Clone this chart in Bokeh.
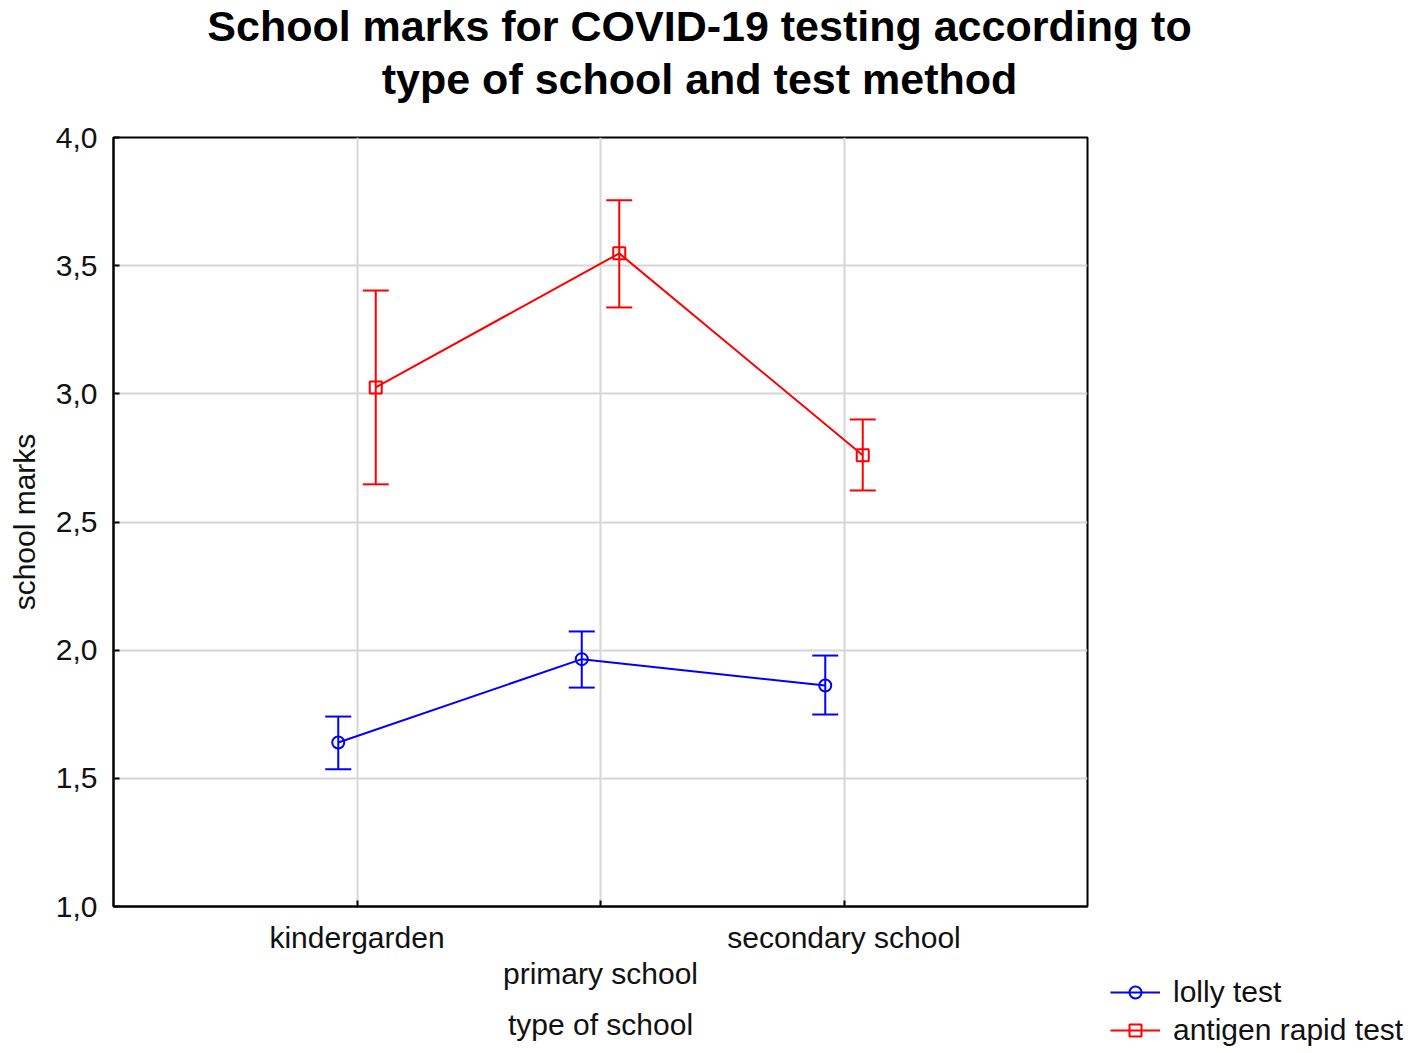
from bokeh.plotting import figure
from bokeh.layouts import column, row
from bokeh.models import (ColumnDataSource, Whisker, TeeHead, FixedTicker,
                          Legend, LegendItem, Label, Range1d)
from bokeh.embed import file_html
from bokeh.resources import INLINE

# ---------------- data ----------------
categories = ["kindergarden", "primary school", "secondary school"]
cat_pos = [1, 2, 3]

series_names = ["lolly test", "antigen rapid test"]
lolly_mean = [1.640, 1.965, 1.862]
lolly_upper = [1.741, 2.073, 1.979]
lolly_lower = [1.535, 1.854, 1.749]
antigen_mean = [3.025, 3.548, 2.760]
antigen_upper = [3.403, 3.755, 2.900]
antigen_lower = [2.647, 3.337, 2.623]

y_ticks = [1.0, 1.5, 2.0, 2.5, 3.0, 3.5, 4.0]
y_tick_labels = ["1,0", "1,5", "2,0", "2,5", "3,0", "3,5", "4,0"]
title_lines = ["School marks for COVID-19 testing according to",
               "type of school and test method"]
x_title = "type of school"
y_title = "school marks"

# ---------------- style ----------------
FONT = "Liberation Sans"
FS = "30px"
DODGE = 0.077
BLUE = "#0000ff"
RED = "#ff0000"
GRID = "#d6d6d6"
TXT = "#111111"

W, H = 1409, 1050
TITLE_H = 120
MAIN_W = 1095
MAIN_H = H - TITLE_H


def bare(fig):
    fig.outline_line_color = None
    fig.background_fill_color = "white"
    fig.border_fill_color = "white"
    fig.xgrid.visible = False
    fig.ygrid.visible = False
    return fig


def no_align(fig):
    try:
        fig.frame_align = False
    except Exception:
        pass
    return fig


# ---------------- title strip ----------------
pt = bare(figure(width=W, height=TITLE_H, output_backend="svg", toolbar_location=None,
                 x_range=Range1d(0, 1), y_range=Range1d(0, 1),
                 x_axis_location=None, y_axis_location=None,
                 min_border=0, min_border_left=0, min_border_right=0,
                 min_border_top=0, min_border_bottom=0))
no_align(pt)
for txt, yy in zip(title_lines, [TITLE_H - 25, TITLE_H - 78]):
    pt.add_layout(Label(x=699, y=yy, x_units="screen", y_units="screen", text=txt,
                        text_align="center", text_baseline="middle",
                        text_font=FONT, text_font_size="43px", text_font_style="bold",
                        text_color="black"))

# ---------------- main plot ----------------
p = figure(width=MAIN_W, height=MAIN_H, output_backend="svg", toolbar_location=None,
           x_range=Range1d(0, 4), y_range=Range1d(1, 4),
           min_border_left=113, min_border_right=MAIN_W - 1087,
           min_border_top=137 - TITLE_H, min_border_bottom=H - 906)
no_align(p)
p.background_fill_color = "white"
p.border_fill_color = "white"
p.outline_line_color = "black"
p.outline_line_width = 2
p.outline_line_alpha = 1

p.xgrid.ticker = FixedTicker(ticks=cat_pos)
p.ygrid.ticker = FixedTicker(ticks=y_ticks)
for g in (p.xgrid[0], p.ygrid[0]):
    g.grid_line_color = GRID
    g.grid_line_width = 2

ya = p.yaxis[0]
ya.ticker = FixedTicker(ticks=y_ticks)
ya.major_label_overrides = dict(zip(y_ticks, y_tick_labels))
ya.axis_label = y_title
ya.axis_label_text_font = FONT
ya.axis_label_text_font_size = FS
ya.axis_label_text_font_style = "normal"
ya.axis_label_text_color = TXT
ya.axis_label_standoff = 12
ya.major_label_text_font = FONT
ya.major_label_text_font_size = FS
ya.major_label_text_color = TXT
ya.major_label_standoff = 16
ya.major_tick_in = 6
ya.major_tick_out = 0
ya.minor_tick_line_color = None
ya.axis_line_width = 2
ya.major_tick_line_width = 2

xa = p.xaxis[0]
xa.ticker = FixedTicker(ticks=cat_pos)
xa.major_label_overrides = {cat_pos[0]: categories[0],
                            cat_pos[1]: "\n" + categories[1],
                            cat_pos[2]: categories[2]}
xa.major_label_text_font = FONT
xa.major_label_text_font_size = FS
xa.major_label_text_color = TXT
xa.major_label_text_line_height = 1.1
xa.major_label_standoff = 14
xa.major_tick_in = 6
xa.major_tick_out = 0
xa.minor_tick_line_color = None
xa.axis_line_width = 2
xa.major_tick_line_width = 2
xa.axis_label = x_title
xa.axis_label_text_font = FONT
xa.axis_label_text_font_size = FS
xa.axis_label_text_font_style = "normal"
xa.axis_label_text_color = TXT
xa.axis_label_standoff = 15

# ---------------- legend strip ----------------
# its ranges hold none of the data, so the proxy renderers only show in the legend
pl = bare(figure(width=W - MAIN_W, height=MAIN_H, output_backend="svg",
                 toolbar_location=None, x_range=Range1d(-1, 0), y_range=Range1d(-1, 0),
                 x_axis_location=None, y_axis_location=None,
                 min_border=0, min_border_left=0, min_border_right=0,
                 min_border_top=0, min_border_bottom=0))
no_align(pl)

legend_items = []
series = [
    (series_names[0], lolly_mean, lolly_upper, lolly_lower, BLUE, "circle", -DODGE),
    (series_names[1], antigen_mean, antigen_upper, antigen_lower, RED, "square", DODGE),
]
for name, mean, up, lo, color, marker, off in series:
    xs = [c + off for c in cat_pos]
    src = ColumnDataSource(dict(x=xs, y=mean, upper=up, lower=lo))
    p.line("x", "y", source=src, line_color=color, line_width=2)
    wh = Whisker(source=src, base="x", upper="upper", lower="lower", dimension="height",
                 line_color=color, line_width=2, level="glyph",
                 upper_head=TeeHead(size=26, line_color=color, line_width=2),
                 lower_head=TeeHead(size=26, line_color=color, line_width=2))
    p.add_layout(wh)
    p.scatter("x", "y", source=src, marker=marker, size=12, line_color=color,
              line_width=2, fill_color=None)
    ln = pl.line("x", "y", source=src, line_color=color, line_width=2)
    sc = pl.scatter("x", "y", source=src, marker=marker, line_color=color,
                    line_width=2, fill_color=None)
    legend_items.append(LegendItem(label=name, renderers=[ln, sc], index=0))

legend = Legend(items=legend_items, location=(1110 - MAIN_W, 1),
                label_text_font=FONT, label_text_font_size=FS, label_text_color=TXT,
                glyph_width=50, glyph_height=30, label_height=38, label_standoff=13,
                spacing=0, padding=0, margin=0,
                border_line_color=None, background_fill_alpha=0)
pl.add_layout(legend)

layout = column(pt, row(p, pl, spacing=0), spacing=0)
open("out.html", "w").write(file_html(layout, INLINE))
